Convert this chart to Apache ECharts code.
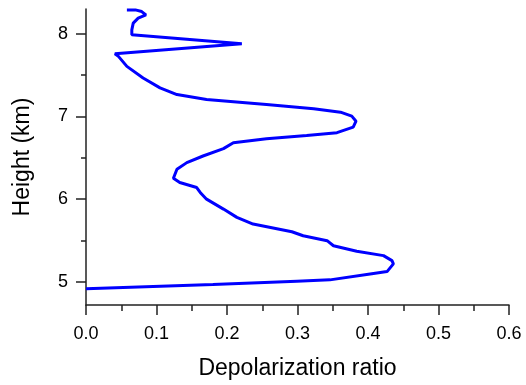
<!DOCTYPE html>
<html><head><meta charset="utf-8">
<script src="https://cdn.jsdelivr.net/npm/echarts@6/dist/echarts.min.js"></script>
<style>html,body{margin:0;padding:0;background:#fff}#c{width:526px;height:385px}</style>
</head><body><div id="c"></div>
<script>
const ratio = [0.000,0.180,0.299,0.346,0.403,0.427,0.436,0.434,0.422,0.384,0.351,0.342,0.308,0.292,0.237,0.214,0.195,0.171,0.162,0.157,0.133,0.124,0.129,0.143,0.166,0.195,0.209,0.256,0.313,0.356,0.379,0.383,0.377,0.361,0.323,0.256,0.171,0.129,0.105,0.081,0.058,0.046,0.041,0.221,0.065,0.065,0.067,0.074,0.085,0.079,0.070,0.058];
const height = [4.916,4.967,5.008,5.024,5.096,5.124,5.217,5.257,5.317,5.370,5.437,5.498,5.558,5.606,5.699,5.780,5.880,6.000,6.081,6.141,6.201,6.253,6.361,6.442,6.522,6.611,6.683,6.731,6.771,6.804,6.871,6.943,7.004,7.052,7.093,7.145,7.205,7.265,7.346,7.466,7.606,7.727,7.759,7.880,7.988,8.048,8.129,8.189,8.229,8.269,8.289,8.289];
const yMajor = [5,6,7,8];
const yMinor = [5.5,6.5,7.5];
const xTitle = 'Depolarization ratio';
const yTitle = 'Height (km)';

const font = "'Liberation Sans', Arial, sans-serif";
const chart = echarts.init(document.getElementById('c'));
const black = '#000';
const axisCol = '#222';
chart.setOption({
  animation:false,
  grid:{left:86,top:9,right:17,bottom:78,containLabel:false},
  xAxis:{type:'value',min:0,max:0.6,interval:0.1,
    name:xTitle,nameLocation:'middle',nameGap:52,
    nameTextStyle:{fontFamily:font,fontSize:23,color:black},
    axisLine:{lineStyle:{color:axisCol,width:1.5}},
    axisTick:{length:10,lineStyle:{color:axisCol,width:1.5}},
    minorTick:{show:true,splitNumber:2,length:6,lineStyle:{color:axisCol,width:1.5}},
    axisLabel:{fontFamily:font,fontSize:18,color:black,margin:20,formatter:v=>v.toFixed(1)},
    splitLine:{show:false}},
  yAxis:[{type:'value',min:4.72,max:8.3,
    name:yTitle,nameLocation:'middle',nameGap:52,nameRotate:90,
    nameTextStyle:{fontFamily:font,fontSize:23,color:black},
    axisLine:{show:true,lineStyle:{color:axisCol,width:1.5}},
    axisTick:{show:true,length:10,customValues:yMajor,lineStyle:{color:axisCol,width:1.5}},
    axisLabel:{fontFamily:font,fontSize:18,color:black,margin:18,customValues:yMajor},
    splitLine:{show:false}},
   {type:'value',min:4.72,max:8.3,position:'left',
    axisLine:{show:false},
    axisTick:{show:true,length:5,customValues:yMinor,lineStyle:{color:axisCol,width:1.5}},
    axisLabel:{show:false},splitLine:{show:false}}],
  series:[{type:'line',yAxisIndex:0,showSymbol:false,smooth:false,
    lineStyle:{color:'#0000ff',width:3},
    data:ratio.map((r,i)=>[r,height[i]])}]
});
</script></body></html>
